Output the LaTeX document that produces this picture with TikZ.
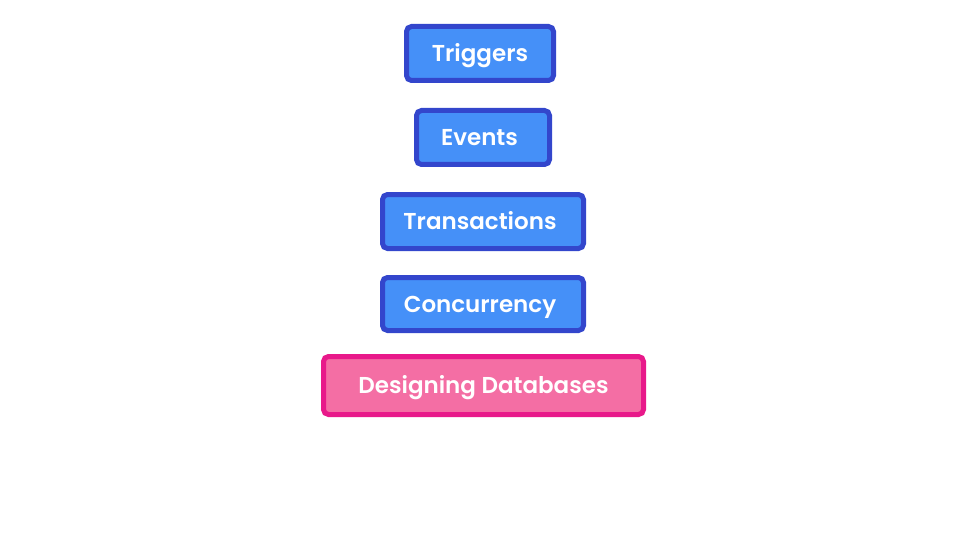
\documentclass[tikz,border=0pt]{standalone}
\usepackage{fontspec}
\setmainfont{Poppins SemiBold}
\definecolor{bfill}{HTML}{4590F8}
\definecolor{bline}{HTML}{3346CC}
\definecolor{pfill}{HTML}{F46EA4}
\definecolor{pline}{HTML}{E8198A}
\tikzset{
  blk/.style={draw=bline, fill=bfill, line width=5pt, rounded corners=5pt, text=white,
    font=\fontsize{23}{26}\selectfont, inner sep=0pt, minimum height=54pt,
    text height=16pt, text depth=0pt},
  pblk/.style={blk, draw=pline, fill=pfill, minimum height=58pt}
}
\begin{document}
\begin{tikzpicture}[x=1pt,y=-1pt]
\useasboundingbox (0,0) rectangle (960,540);
\node[blk, minimum width=147pt] (trig) at (480,53.5) {Triggers};
\node[blk, minimum width=133pt] (ev) at (483,137.5) {\hspace*{-7pt}Events};
\node[blk, minimum width=201pt] (tr) at (483,221.5) {\hspace*{-6pt}Transactions};
\node[blk, minimum width=201pt, minimum height=53pt] (co) at (483,304) {\hspace*{-6pt}Concurrency};
\node[pblk, minimum width=320pt] (db) at (483.5,385.5) {Designing Databases};
\end{tikzpicture}
\end{document}
